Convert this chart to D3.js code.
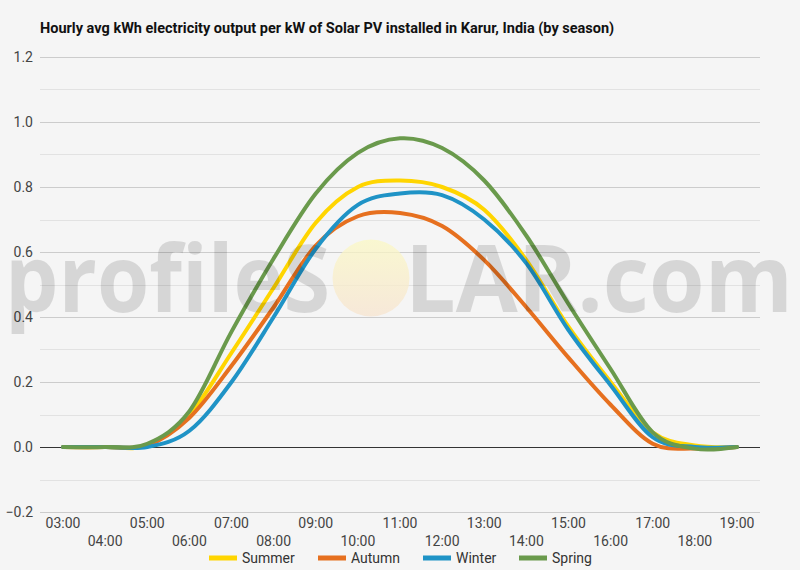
<!DOCTYPE html>
<html>
<head>
<meta charset="utf-8">
<script src="https://cdn.jsdelivr.net/npm/d3@7"></script>
<style>
    body { margin: 0; background: #f5f5f5; }
    svg { display: block; font-family: Roboto, "Open Sans", sans-serif; }
</style>
</head>
<body>
<div id="chart1"></div>
<script>
var hours = ["03:00", "04:00", "05:00", "06:00", "07:00", "08:00", "09:00", "10:00", "11:00",
             "12:00", "13:00", "14:00", "15:00", "16:00", "17:00", "18:00", "19:00"];
var summer = [0, 0, 0.005, 0.10, 0.29, 0.49, 0.69, 0.80, 0.82, 0.80, 0.73, 0.575, 0.37, 0.20, 0.045, 0.005, 0];
var autumn = [0, 0, 0.005, 0.09, 0.25, 0.43, 0.62, 0.71, 0.72, 0.68, 0.575, 0.43, 0.275, 0.13, 0.01, -0.005, 0];
var winter = [0, 0, 0, 0.05, 0.20, 0.40, 0.61, 0.745, 0.78, 0.775, 0.70, 0.565, 0.36, 0.19, 0.03, 0, 0];
var spring = [0, 0, 0.01, 0.11, 0.355, 0.58, 0.78, 0.905, 0.95, 0.92, 0.82, 0.65, 0.44, 0.24, 0.045, -0.005, 0];
var seriesNames = ["Summer", "Autumn", "Winter", "Spring"];
var yTicks = [-0.2, 0, 0.2, 0.4, 0.6, 0.8, 1.0, 1.2];
var yMinor = [-0.1, 0.1, 0.3, 0.5, 0.7, 0.9, 1.1];
var title = "Hourly avg kWh electricity output per kW of Solar PV installed in Karur, India (by season)";

var colors = ["#ffd500", "#e6701f", "#1f93c6", "#6a9a4c"];
var width = 800, height = 570;
var plotLeft = 40, plotRight = 760, plotTop = 57, plotBottom = 512;

var svg = d3.select("#chart1").append("svg")
    .attr("width", width)
    .attr("height", height);

svg.append("rect")
    .attr("width", width)
    .attr("height", height)
    .attr("fill", "#f5f5f5");

var x = d3.scalePoint().domain(hours).range([plotLeft + 2, plotRight - 2]).padding(0.5);
var y = d3.scaleLinear().domain([-0.2, 1.2]).range([plotBottom, plotTop]);

// title
svg.append("text")
    .attr("x", 40)
    .attr("y", 33)
    .attr("font-size", 14.5)
    .attr("font-weight", "bold")
    .attr("fill", "#111")
    .text(title);

// grid
svg.selectAll(".minor")
    .data(yMinor)
    .enter().append("line")
    .attr("class", "minor")
    .attr("x1", plotLeft).attr("x2", plotRight)
    .attr("y1", function (d) { return Math.round(y(d)) + 0.5; })
    .attr("y2", function (d) { return Math.round(y(d)) + 0.5; })
    .attr("stroke", "#e2e2e2");

svg.selectAll(".major")
    .data(yTicks)
    .enter().append("line")
    .attr("class", "major")
    .attr("x1", plotLeft).attr("x2", plotRight)
    .attr("y1", function (d) { return Math.round(y(d)) + 0.5; })
    .attr("y2", function (d) { return Math.round(y(d)) + 0.5; })
    .attr("stroke", function (d) { return d == 0 ? "#333" : "#cccccc"; });

svg.selectAll(".ylabel")
    .data(yTicks)
    .enter().append("text")
    .attr("class", "ylabel")
    .attr("x", 33)
    .attr("y", function (d) { return y(d); })
    .attr("dy", "0.35em")
    .attr("text-anchor", "end")
    .attr("font-size", 14)
    .attr("fill", "#444")
    .text(function (d) { return d3.format(".1f")(d); });

svg.selectAll(".xlabel")
    .data(hours)
    .enter().append("text")
    .attr("class", "xlabel")
    .attr("x", function (d) { return x(d); })
    .attr("y", function (d, i) { return i % 2 == 0 ? 528 : 546; })
    .attr("text-anchor", "middle")
    .attr("font-size", 14)
    .attr("fill", "#444")
    .text(function (d) { return d; });

// lines
var line = d3.line()
    .x(function (d, i) { return x(hours[i]); })
    .y(function (d) { return y(d); })
    .curve(d3.curveCardinal.tension(0));

var allSeries = [summer, autumn, winter, spring];
svg.selectAll(".series")
    .data(allSeries)
    .enter().append("path")
    .attr("class", "series")
    .attr("d", line)
    .attr("fill", "none")
    .attr("stroke", function (d, i) { return colors[i]; })
    .attr("stroke-width", 4)
    .attr("stroke-linejoin", "round")
    .attr("stroke-linecap", "round");

// watermark
var defs = svg.append("defs");
var grad = defs.append("linearGradient")
    .attr("id", "sun")
    .attr("x1", 0).attr("y1", 0).attr("x2", 0).attr("y2", 1);
grad.append("stop").attr("offset", "0%").attr("stop-color", "#fbf8c4");
grad.append("stop").attr("offset", "100%").attr("stop-color", "#f7e4cf");

var mark = svg.append("g").attr("pointer-events", "none");
mark.append("circle")
    .attr("cx", 371).attr("cy", 278).attr("r", 38.5)
    .attr("fill", "url(#sun)")
    .attr("opacity", 0.75);
mark.append("text")
    .attr("x", 5).attr("y", 312)
    .attr("font-family", "'Open Sans', sans-serif")
    .attr("font-weight", "bold")
    .attr("font-size", 94)
    .attr("textLength", 325)
    .attr("lengthAdjust", "spacingAndGlyphs")
    .attr("fill", "#000")
    .attr("opacity", 0.12)
    .text("profileS");
mark.append("text")
    .attr("x", 405).attr("y", 312)
    .attr("font-family", "'Open Sans', sans-serif")
    .attr("font-weight", "bold")
    .attr("font-size", 94)
    .attr("textLength", 388)
    .attr("lengthAdjust", "spacingAndGlyphs")
    .attr("fill", "#000")
    .attr("opacity", 0.12)
    .text("LAR.com");

// legend
var legendX = [209, 318, 423, 519];
var legend = svg.selectAll(".legend")
    .data(seriesNames)
    .enter().append("g")
    .attr("class", "legend")
    .attr("transform", function (d, i) { return "translate(" + legendX[i] + ",558)"; });
legend.append("rect")
    .attr("x", 0).attr("y", -2.5)
    .attr("width", 28).attr("height", 5)
    .attr("fill", function (d, i) { return colors[i]; });
legend.append("text")
    .attr("x", 33)
    .attr("y", 0)
    .attr("dy", "0.35em")
    .attr("font-size", 14)
    .attr("fill", "#333")
    .text(function (d) { return d; });
</script>
</body>
</html>
